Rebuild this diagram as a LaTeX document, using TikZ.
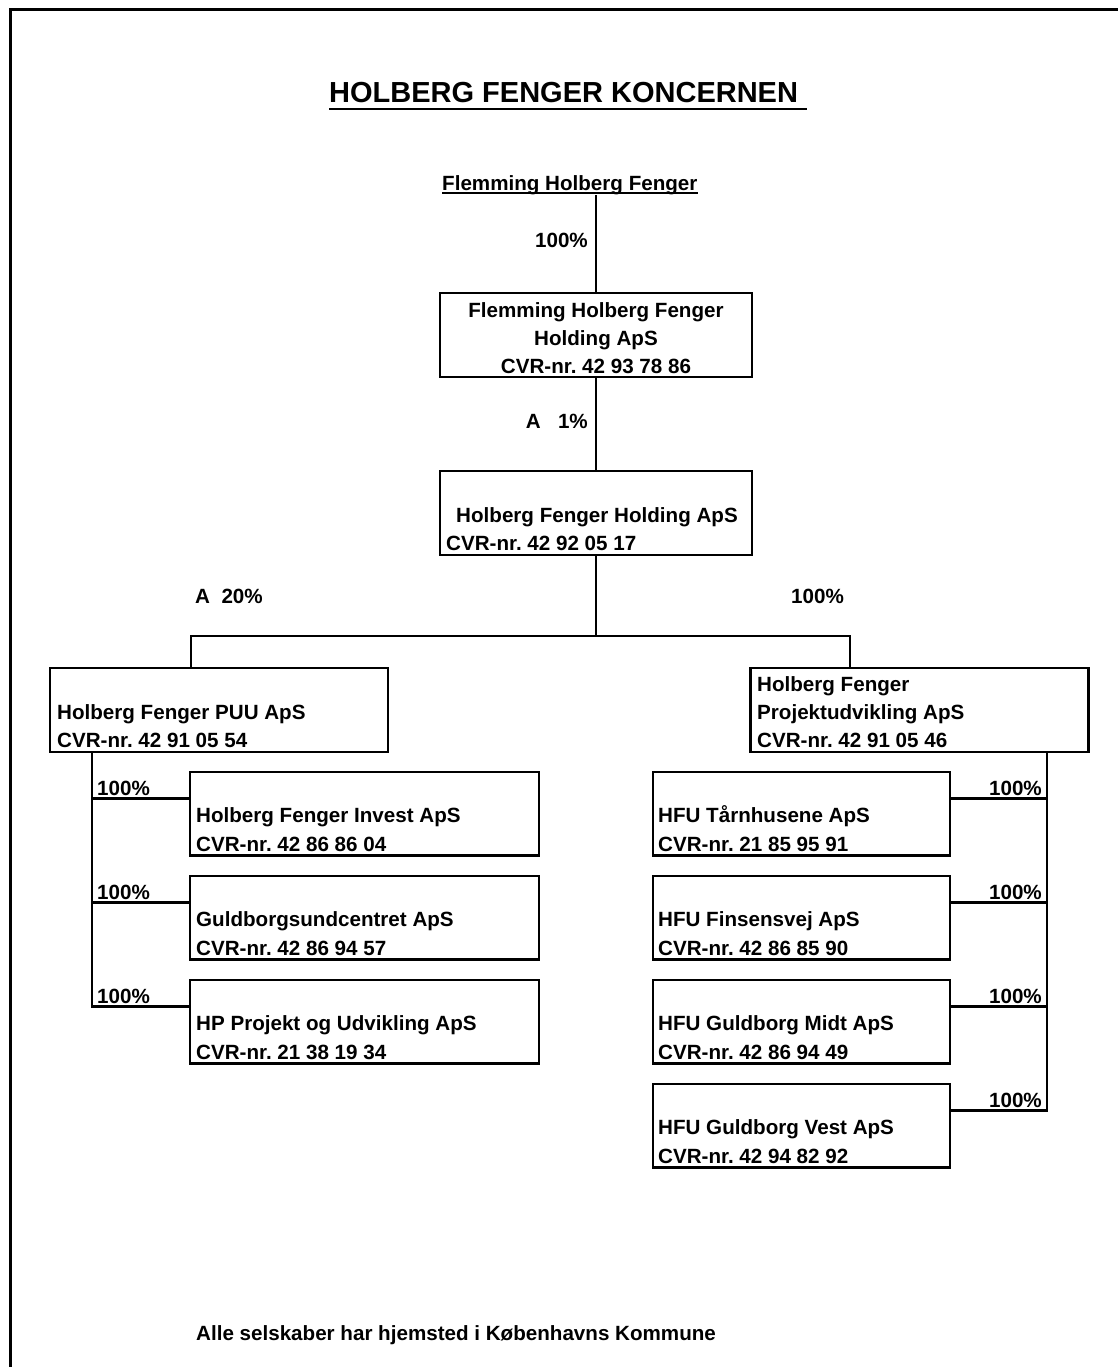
\documentclass[tikz,border=0pt]{standalone}
\usepackage{fontspec}
\setmainfont{Liberation Sans}
\frenchspacing
\usetikzlibrary{positioning,calc}
\tikzstyle{every picture}=[x=1pt,y=-1pt]
\tikzstyle{lbl}=[inner sep=0pt,font={\fontsize{20.6}{28}\selectfont\bfseries}]
\tikzstyle{co}=[draw,rectangle,line width=2.5pt,inner sep=0pt]
\tikzstyle{topbox}=[co,minimum width=312,minimum height=84]
\tikzstyle{midbox}=[co,minimum width=338,minimum height=84]
\tikzstyle{subl}=[co,minimum width=349,minimum height=83.5]
\tikzstyle{subr}=[co,minimum width=297,minimum height=83.5]
\tikzstyle{wire}=[line width=2.3pt]

\begin{document}
\begin{tikzpicture}
	\useasboundingbox (0,0) rectangle (1118,1367);
	\draw [line width=3pt] (1118,9.7) -- (10.5,9.7) -- (10.5,1367);

	% heading
	\node [style=lbl, anchor=base west, font={\fontsize{29}{34}\selectfont\bfseries}] (title) at (329,103) {HOLBERG FENGER KONCERNEN};
	\draw [line width=2.5pt] ([yshift=-6pt]title.base west) -- ([yshift=-6pt,xshift=9pt]title.base east);
	\node [style=lbl, anchor=base west] (fhf) at (442,190) {Flemming Holberg Fenger};
	\draw [line width=1.8pt] ([yshift=-3pt]fhf.base west) -- ([yshift=-3pt]fhf.base east);

	% holding companies
	\node [style=topbox] (fhfh) at (596,335) {};
	\node [style=lbl, anchor=base] (fhfh1) at (596,317) {Flemming Holberg Fenger};
	\node [style=lbl, anchor=base] (fhfh2) at (596,345) {Holding ApS};
	\node [style=lbl, anchor=base] (fhfh3) at (596,373) {CVR-nr. 42 93 78 86};
	\node [style=topbox] (hfh) at (596,513) {};
	\node [style=lbl, anchor=base] (hfh1) at (597,522) {Holberg Fenger Holding ApS};
	\node [style=lbl, anchor=base west] (hfh2) at (446,550) {CVR-nr. 42 92 05 17};

	\node [style=lbl, anchor=base east] (p1) at (588,247) {100\%};
	\node [style=lbl, anchor=base east] (p2) at (588,428) {A\ \ \ 1\%};
	\node [style=lbl, anchor=base west] (p3) at (195,603) {A\ \ 20\%};
	\node [style=lbl, anchor=base west] (p4) at (791,603) {100\%};

	% second level
	\node [style=midbox] (puu) at (219,710) {};
	\node [style=lbl, anchor=base west] (puu1) at (57,719) {Holberg Fenger PUU ApS};
	\node [style=lbl, anchor=base west] (puu2) at (57,747) {CVR-nr. 42 91 05 54};
	\node [style=midbox] (hfp) at (919.5,710) {};
	\node [style=lbl, anchor=base west] (hfp1) at (757,691) {Holberg Fenger};
	\node [style=lbl, anchor=base west] (hfp2) at (757,719) {Projektudvikling ApS};
	\node [style=lbl, anchor=base west] (hfp3) at (757,747) {CVR-nr. 42 91 05 46};

	% left subsidiaries
	\node [style=subl] (hfi) at (364.5,813.5) {};
	\node [style=lbl, anchor=base west] (hfi1) at (196,822) {Holberg Fenger Invest ApS};
	\node [style=lbl, anchor=base west] (hfi2) at (196,851) {CVR-nr. 42 86 86 04};
	\node [style=subl] (gsc) at (364.5,917.5) {};
	\node [style=lbl, anchor=base west] (gsc1) at (196,926) {Guldborgsundcentret ApS};
	\node [style=lbl, anchor=base west] (gsc2) at (196,955) {CVR-nr. 42 86 94 57};
	\node [style=subl] (hpp) at (364.5,1021.5) {};
	\node [style=lbl, anchor=base west] (hpp1) at (196,1030) {HP Projekt og Udvikling ApS};
	\node [style=lbl, anchor=base west] (hpp2) at (196,1059) {CVR-nr. 21 38 19 34};
	\node [style=lbl, anchor=base west] (lp1) at (97,795) {100\%};
	\node [style=lbl, anchor=base west] (lp2) at (97,899) {100\%};
	\node [style=lbl, anchor=base west] (lp3) at (97,1003) {100\%};

	% right subsidiaries
	\node [style=subr] (tarn) at (801.5,813.5) {};
	\node [style=lbl, anchor=base west] (tarn1) at (658,822) {HFU Tårnhusene ApS};
	\node [style=lbl, anchor=base west] (tarn2) at (658,851) {CVR-nr. 21 85 95 91};
	\node [style=subr] (fins) at (801.5,917.5) {};
	\node [style=lbl, anchor=base west] (fins1) at (658,926) {HFU Finsensvej ApS};
	\node [style=lbl, anchor=base west] (fins2) at (658,955) {CVR-nr. 42 86 85 90};
	\node [style=subr] (midt) at (801.5,1021.5) {};
	\node [style=lbl, anchor=base west] (midt1) at (658,1030) {HFU Guldborg Midt ApS};
	\node [style=lbl, anchor=base west] (midt2) at (658,1059) {CVR-nr. 42 86 94 49};
	\node [style=subr] (vest) at (801.5,1125.5) {};
	\node [style=lbl, anchor=base west] (vest1) at (658,1134) {HFU Guldborg Vest ApS};
	\node [style=lbl, anchor=base west] (vest2) at (658,1163) {CVR-nr. 42 94 82 92};
	\node [style=lbl, anchor=base east] (rp1) at (1042,795) {100\%};
	\node [style=lbl, anchor=base east] (rp2) at (1042,899) {100\%};
	\node [style=lbl, anchor=base east] (rp3) at (1042,1003) {100\%};
	\node [style=lbl, anchor=base east] (rp4) at (1042,1107) {100\%};

	\node [style=lbl, anchor=base west] (foot) at (196,1340) {Alle selskaber har hjemsted i Københavns Kommune};

	% ownership lines
	\coordinate (split) at (596,636);
	\coordinate (puuin) at (191,636);
	\coordinate (hfpin) at (850,636);
	\coordinate (lt) at (92,0);
	\coordinate (rt) at (1047,0);
	\draw [style=wire] (fhfh.north) -- (fhfh.north |- fhf.south);
	\draw [style=wire] (fhfh.south) -- (hfh.north);
	\draw [style=wire] (hfh.south) -- (split);
	\draw [style=wire] (puuin |- puu.north) |- (split) -| (hfpin |- hfp.north);
	\draw [style=wire] (lt |- puu.south) |- ([yshift=-28pt]hpp.north west);
	\draw [style=wire] (lt |- hfi.north) ++(0,28) -- ([yshift=-28pt]hfi.north west);
	\draw [style=wire] (lt |- gsc.north) ++(0,28) -- ([yshift=-28pt]gsc.north west);
	\draw [style=wire] (rt |- hfp.south) |- ([yshift=-28pt]vest.north east);
	\draw [style=wire] (rt |- tarn.north) ++(0,28) -- ([yshift=-28pt]tarn.north east);
	\draw [style=wire] (rt |- fins.north) ++(0,28) -- ([yshift=-28pt]fins.north east);
	\draw [style=wire] (rt |- midt.north) ++(0,28) -- ([yshift=-28pt]midt.north east);
\end{tikzpicture}
\end{document}
